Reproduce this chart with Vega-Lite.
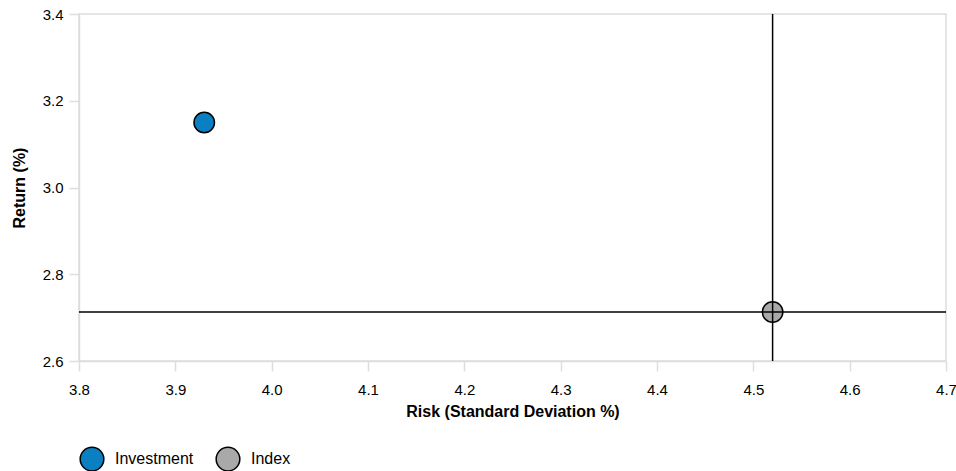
{
  "$schema": "https://vega.github.io/schema/vega-lite/v6.json",
  "width": 867,
  "height": 347,
  "autosize": {"type": "none"},
  "padding": {"left": 79, "top": 14, "right": 10, "bottom": 110},
  "config": {
    "font": "Liberation Sans",
    "view": {"stroke": "#dddddd", "strokeWidth": 1.5},
    "axis": {
      "grid": false,
      "domainColor": "#dddddd",
      "domainWidth": 1.5,
      "tickColor": "#dddddd",
      "tickWidth": 1.5,
      "tickSize": 10,
      "labelFlush": false,
      "labelColor": "#000000",
      "labelFontSize": 15,
      "labelFont": "Liberation Sans",
      "titleFont": "Liberation Sans",
      "titleFontSize": 16,
      "titleFontWeight": "bold",
      "titleColor": "#000000"
    }
  },
  "data": {
    "values": [
      {"series": "Investment", "risk": 3.93, "ret": 3.15},
      {"series": "Index", "risk": 4.52, "ret": 2.713}
    ]
  },
  "layer": [
    {
      "mark": {"type": "point", "filled": true, "stroke": "#000000", "strokeWidth": 1.5, "opacity": 1, "size": 420},
      "encoding": {
        "x": {
          "field": "risk", "type": "quantitative",
          "scale": {"domain": [3.8, 4.7], "nice": false, "zero": false},
          "axis": {"title": "Risk (Standard Deviation %)", "values": [3.8, 3.9, 4.0, 4.1, 4.2, 4.3, 4.4, 4.5, 4.6, 4.7], "format": ".1f", "titlePadding": 6, "labelPadding": 11}
        },
        "y": {
          "field": "ret", "type": "quantitative",
          "scale": {"domain": [2.6, 3.4], "nice": false, "zero": false},
          "axis": {"title": "Return (%)", "values": [2.6, 2.8, 3.0, 3.2, 3.4], "format": ".1f", "titlePadding": 15, "labelPadding": 6}
        },
        "color": {
          "field": "series", "type": "nominal",
          "scale": {"domain": ["Investment", "Index"], "range": ["#0a7fc2", "#a9a9a9"]},
          "legend": {
            "title": null,
            "orient": "none",
            "legendX": 0,
            "legendY": 432,
            "direction": "horizontal",
            "padding": 0,
            "symbolType": "circle",
            "symbolSize": 560,
            "symbolStrokeColor": "#000000",
            "symbolStrokeWidth": 1.5,
            "symbolOpacity": 1,
            "labelFontSize": 16,
            "labelColor": "#000000",
            "labelOffset": 10,
            "columnPadding": 19
          }
        }
      }
    },
    {
      "transform": [{"filter": "datum.series == 'Index'"}],
      "mark": {"type": "rule", "color": "#000000", "strokeWidth": 1.5},
      "encoding": {"y": {"field": "ret", "type": "quantitative"}}
    },
    {
      "transform": [{"filter": "datum.series == 'Index'"}],
      "mark": {"type": "rule", "color": "#000000", "strokeWidth": 1.5},
      "encoding": {"x": {"field": "risk", "type": "quantitative"}}
    }
  ]
}
